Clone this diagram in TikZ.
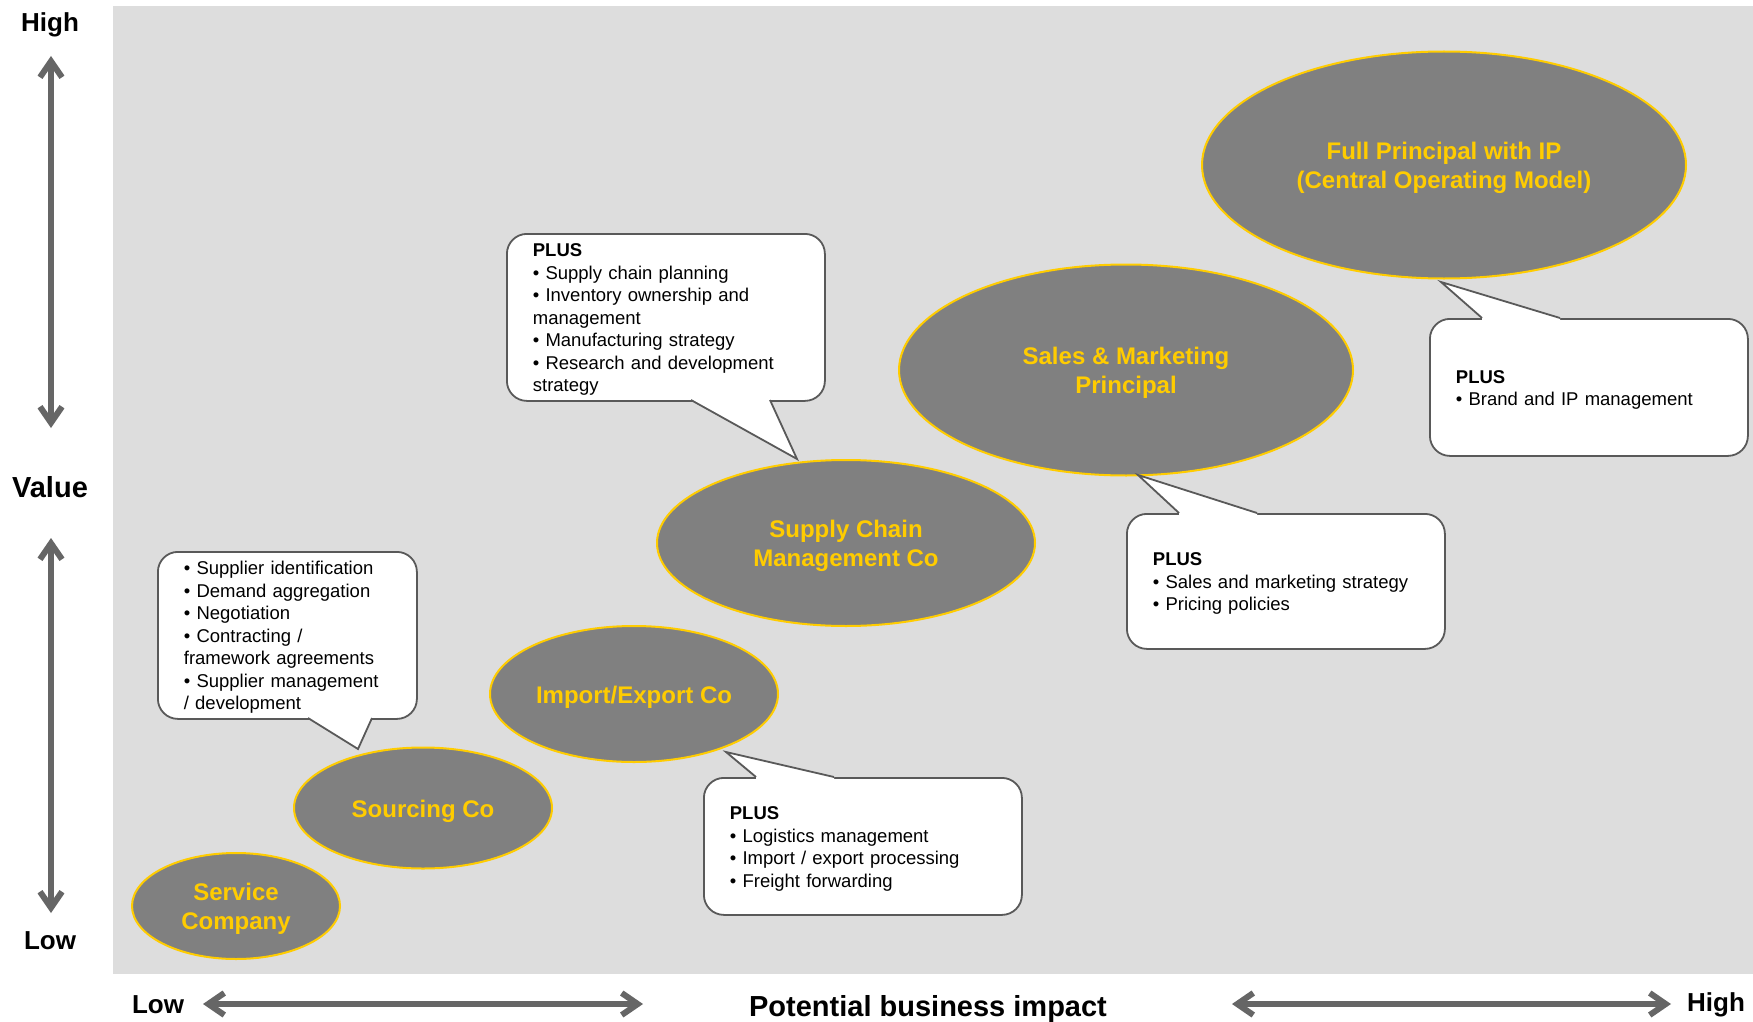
\documentclass[tikz,border=0pt]{standalone}
\usepackage{fontspec}
\setmainfont{Liberation Sans}
\usetikzlibrary{shapes.geometric,arrows.meta}
\definecolor{bggray}{RGB}{221,221,221}
\definecolor{ovalgray}{RGB}{128,128,128}
\definecolor{ylw}{RGB}{255,204,0}
\definecolor{arrgray}{RGB}{102,102,102}
\definecolor{brd}{RGB}{89,89,89}
\newcommand\cstrut{\rule{0pt}{18pt}}
\newcommand\ostrut{\rule{0pt}{23.5pt}}
\begin{document}
\begin{tikzpicture}[x=1pt,y=-1pt,
  oval/.style={ellipse, draw=ylw, line width=2pt, fill=ovalgray, text=ylw,
    font=\bfseries\fontsize{24}{29}\selectfont, align=center, inner sep=0pt},
  callout/.style={draw=brd, line width=1.8pt, fill=white, rounded corners=20pt,
    align=left, inner xsep=26pt, inner ysep=0pt, anchor=north west,
    font=\fontsize{18.5}{22.5}\selectfont},
  tailline/.style={draw=brd, line width=1.8pt, line join=miter},
  axis/.style={draw=arrgray, line width=6pt, line cap=round,
    >={Straight Barb[length=16pt,width=22pt]}, <->},
  axlabel/.style={font=\bfseries\fontsize{26}{31}\selectfont, inner sep=0pt},
  axlabelbig/.style={font=\bfseries\fontsize{29}{34}\selectfont, inner sep=0pt}]

\useasboundingbox (0,0) rectangle (1753,1022);
\fill[white] (0,0) rectangle (1753,1022);
\fill[bggray] (113,6) rectangle (1753,974);

% axes
\coordinate (v1) at (51,56);
\coordinate (v2) at (51,428);
\coordinate (v3) at (51,538);
\coordinate (v4) at (51,913);
\draw[axis] (v1) -- (v2);
\draw[axis] (v3) -- (v4);
\coordinate (h1) at (203,1004);
\coordinate (h2) at (643,1004);
\coordinate (h3) at (1232,1004);
\coordinate (h4) at (1671,1004);
\draw[axis] (h1) -- (h2);
\draw[axis] (h3) -- (h4);

\node[axlabel] (ltophigh) at (50,25) {High};
\node[axlabelbig] (lvalue) at (50,487) {Value};
\node[axlabel] (lleftlow) at (50,941) {Low};
\node[axlabel] (lbotlow) at (158,1005) {Low};
\node[axlabelbig] (lpbi) at (928,1009) {Potential business impact};
\node[axlabel] (lbothigh) at (1716,1005) {High};

% ovals
\node[oval, minimum width=208pt, minimum height=106pt] (svc) at (236,906) {\ostrut Service\\Company};
\node[oval, minimum width=258pt, minimum height=121pt] (src) at (423,808) {\ostrut Sourcing Co};
\node[oval, minimum width=288pt, minimum height=136pt] (imp) at (634,694) {\ostrut Import/Export Co};
\node[oval, minimum width=378pt, minimum height=166pt] (scm) at (846,543) {\ostrut Supply Chain\\Management Co};
\node[oval, minimum width=454pt, minimum height=211pt] (smp) at (1126,370) {\ostrut Sales \& Marketing\\Principal};
\node[oval, minimum width=484pt, minimum height=227pt] (fpi) at (1444,165) {\ostrut Full Principal with IP\\(Central Operating Model)};

% callout A (Sourcing)
\node[callout, text width=207pt, minimum height=167pt] (cA) at (157,551)
  {\cstrut• Supplier identification\\• Demand aggregation\\• Negotiation\\• Contracting /\\framework agreements\\• Supplier management\\/ development};
\coordinate (a1) at (308,718); \coordinate (a2) at (372,718); \coordinate (aT) at (358,749);
\fill[white] (308,714) -- (a1) -- (aT) -- (a2) -- (372,714) -- cycle;
\draw[tailline] (a1) -- (aT) -- (a2);

% callout B (Supply chain)
\node[callout, text width=266pt, minimum height=167pt] (cB) at (506,233)
  {\cstrut\textbf{PLUS}\\• Supply chain planning\\• Inventory ownership and\\management\\• Manufacturing strategy\\• Research and development\\strategy};
\coordinate (b1) at (691,400); \coordinate (b2) at (770,400); \coordinate (bT) at (797,459);
\fill[white] (691,396) -- (b1) -- (bT) -- (b2) -- (770,396) -- cycle;
\draw[tailline] (b1) -- (bT) -- (b2);

% callout C (Import/Export)
\node[callout, text width=266pt, minimum height=137pt] (cC) at (703,777)
  {\cstrut\textbf{PLUS}\\• Logistics management\\• Import / export processing\\• Freight forwarding};
\coordinate (c1) at (756,777); \coordinate (c2) at (834,777); \coordinate (cT) at (726,752);
\fill[white] (756,781) -- (c1) -- (cT) -- (c2) -- (834,781) -- cycle;
\draw[tailline] (c1) -- (cT) -- (c2);

% callout D (Sales)
\node[callout, text width=266pt, minimum height=135pt] (cD) at (1126,513)
  {\cstrut\textbf{PLUS}\\• Sales and marketing strategy\\• Pricing policies};
\coordinate (d1) at (1179,513); \coordinate (d2) at (1257,513); \coordinate (dT) at (1138,475);
\fill[white] (1179,517) -- (d1) -- (dT) -- (d2) -- (1257,517) -- cycle;
\draw[tailline] (d1) -- (dT) -- (d2);

% callout E (Full principal)
\node[callout, text width=266pt, minimum height=137pt] (cE) at (1429,318)
  {\cstrut\textbf{PLUS}\\• Brand and IP management};
\coordinate (e1) at (1482,318); \coordinate (e2) at (1560,318); \coordinate (eT) at (1441,282);
\fill[white] (1482,322) -- (e1) -- (eT) -- (e2) -- (1560,322) -- cycle;
\draw[tailline] (e1) -- (eT) -- (e2);

\end{tikzpicture}
\end{document}
